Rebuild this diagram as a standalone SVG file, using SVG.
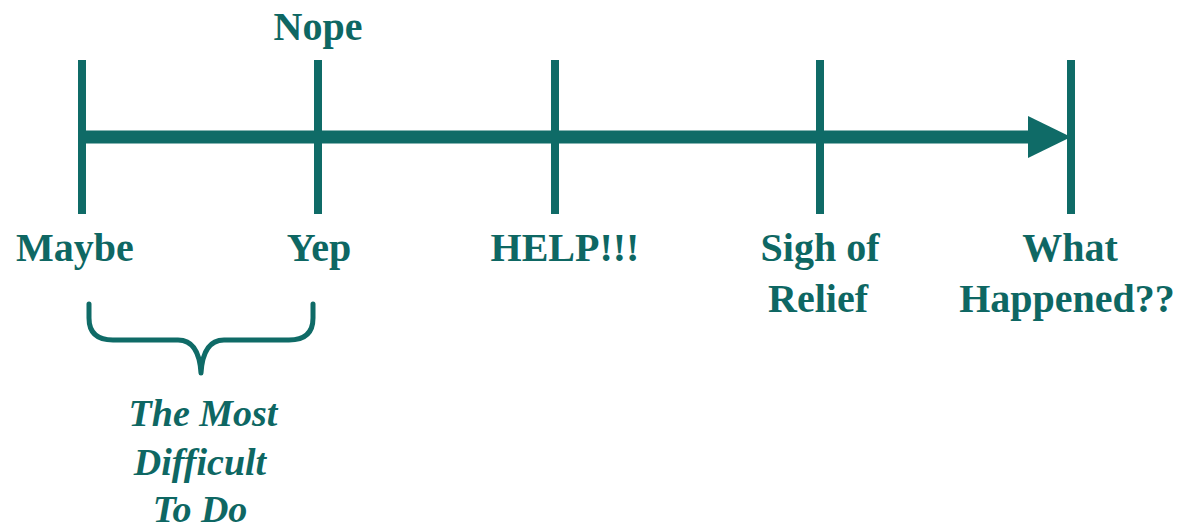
<svg xmlns="http://www.w3.org/2000/svg" width="1185" height="531" viewBox="0 0 1185 531">
<style>
.t{font-family:"Liberation Serif","Times New Roman",serif;font-weight:bold;font-size:40px;fill:#0e6763;text-anchor:middle}
.i{font-style:italic;font-size:38px}
.tick{stroke:#0f6b67;stroke-width:8}
</style>
<rect width="1185" height="531" fill="#ffffff"/>
<g id="connectors">
<line x1="82" y1="137" x2="1032" y2="137" stroke="#0f6b67" stroke-width="13"/>
<polygon points="1028,116 1071,137 1028,158" fill="#0f6b67"/>
</g>
<g id="maybe"><line class="tick" x1="82" y1="60" x2="82" y2="214"/><text class="t" x="75" y="261">Maybe</text></g>
<g id="yep"><line class="tick" x1="318" y1="60" x2="318" y2="214"/><text class="t" x="318" y="40">Nope</text><text class="t" x="319" y="261">Yep</text></g>
<g id="help"><line class="tick" x1="555" y1="60" x2="555" y2="214"/><text class="t" x="565" y="261">HELP!!!</text></g>
<g id="sigh"><line class="tick" x1="820" y1="60" x2="820" y2="214"/><text class="t" x="820" y="261">Sigh of</text><text class="t" x="818" y="312">Relief</text></g>
<g id="what"><line class="tick" x1="1071" y1="60" x2="1071" y2="214"/><text class="t" x="1070" y="261">What</text><text class="t" x="1067" y="312">Happened??</text></g>
<g id="brace">
<path d="M89 304 L89 318 Q89 340 113 340 L178 340 Q199 340 201 373 Q203 340 224 340 L289 340 Q313 340 313 318 L313 304" fill="none" stroke="#0f6b67" stroke-width="5" stroke-linecap="round" stroke-linejoin="round"/>
<text class="t i" x="203" y="426">The Most</text>
<text class="t i" x="200" y="475">Difficult</text>
<text class="t i" x="200" y="522">To Do</text>
</g>
</svg>
